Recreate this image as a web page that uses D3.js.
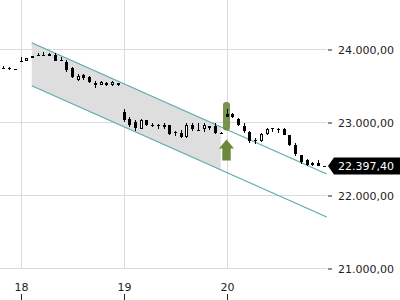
<!DOCTYPE html>
<html>
<head>
<meta charset="utf-8">
<script src="https://cdn.jsdelivr.net/npm/d3@7"></script>
<style>
body { margin: 0; background: #fff; }
svg { display: block; font-family: "DejaVu Sans", sans-serif; }
</style>
</head>
<body>
<div id="chart"></div>
<script>
// candle data, 18 bars per day, first bar of day 18 is index 3
var opens  = [23742,23745,23727, 23840,23836,23878,23915,23918,23935,23915,23850,23822,23745,23580,23640,23620,23540,23508,23540,23510,23535,
              23140,23040,23000,22905,23025,22965,22955,22930,22960,22860,22850,22795,22965,22895,22900,22915,22945,22855,
              23110,23110,23035,22945,22865,22755,22740,22840,22912,22905,22905,22820,22690,22545,22480,22410,22440,22400];
var highs  = [23770,23750,23730, 23885,23880,23905,23950,23960,23945,23950,23895,23850,23755,23660,23660,23625,23562,23555,23545,23555,23540,
              23175,23065,23027,23037,23030,22985,22970,22985,22962,22870,22890,22985,22990,22985,22985,22950,22990,22860,
              23180,23130,23050,22985,22870,22780,22855,22915,22915,22915,22915,22825,22710,22550,22490,22455,22480,22402];
var lows   = [23725,23715,23722, 23830,23832,23875,23900,23905,23900,23830,23845,23685,23600,23555,23575,23530,23466,23505,23500,23500,23500,
              23005,22938,22880,22900,22950,22930,22905,22900,22825,22810,22775,22775,22880,22875,22865,22890,22836,22836,
              23065,23050,22945,22850,22710,22700,22725,22820,22860,22855,22820,22670,22534,22425,22397,22395,22395,22396];
var closes = [23738,23728,23725, 23836,23875,23898,23903,23910,23905,23838,23848,23712,23610,23632,23600,23545,23510,23545,23505,23545,23505,
              23030,22960,22918,23025,22960,22945,22948,22960,22838,22845,22795,22965,22905,22885,22955,22940,22850,22845,
              23070,23070,22960,22880,22740,22735,22835,22905,22905,22898,22825,22685,22560,22450,22415,22445,22400,22397.4];

var firstDay = 18, firstDayIndex = 3, barsPerDay = 18;

var dayTicks = [18, 19, 20];
var priceTicks = [21000, 22000, 23000, 24000];
var lastPrice = 22397.40;

// trend channel: start/end day with upper and lower prices
var channelDays  = [18.109, 20.973];
var channelUpper = [24086, 22288];
var channelLower = [23497, 21699];
var shadeEndDay = 19.944;

// gap marker on the open of day 20
var markerDay = 20;
var markerBar = [23275, 22885];

var W = 400, H = 300;

var svg = d3.select("#chart").append("svg")
	.attr("width", W)
	.attr("height", H);

var x = d3.scaleLinear().domain([18, 20]).range([20.5, 226.5]);
var y = d3.scaleLinear().domain([21000, 24000]).range([268, 49]);

var de = d3.formatLocale({decimal: ",", thousands: ".", grouping: [3], currency: ["", ""]});
var fmt = de.format(",.2f");

// grid
svg.append("g").selectAll("line").data(priceTicks).enter().append("line")
	.attr("x1", 0).attr("x2", 327)
	.attr("y1", function(d) { return Math.round(y(d)) + 0.5; })
	.attr("y2", function(d) { return Math.round(y(d)) + 0.5; })
	.attr("stroke", "#dadada");

svg.append("g").selectAll("line").data(dayTicks).enter().append("line")
	.attr("x1", function(d) { return Math.round(x(d)) + 0.5; })
	.attr("x2", function(d) { return Math.round(x(d)) + 0.5; })
	.attr("y1", 0).attr("y2", 268)
	.attr("stroke", "#dadada");

// channel shading
function lineAt(vals, d) {
	var t = (d - channelDays[0]) / (channelDays[1] - channelDays[0]);
	return vals[0] + (vals[1] - vals[0]) * t;
}
var shade = [
	[x(channelDays[0]), y(channelUpper[0])],
	[x(shadeEndDay), y(lineAt(channelUpper, shadeEndDay))],
	[x(shadeEndDay), y(lineAt(channelLower, shadeEndDay))],
	[x(channelDays[0]), y(channelLower[0])]
];
svg.append("path")
	.attr("d", d3.line()(shade) + "Z")
	.attr("fill", "#dedede");

[channelUpper, channelLower].forEach(function(c) {
	svg.append("line")
		.attr("x1", x(channelDays[0])).attr("y1", y(c[0]))
		.attr("x2", x(channelDays[1])).attr("y2", y(c[1]))
		.attr("stroke", "#5fa9b0")
		.attr("stroke-width", 1.2);
});

// marker pill + arrow
var green = "#6d883c";
svg.append("rect")
	.attr("x", x(markerDay) - 3.5)
	.attr("y", y(markerBar[0]))
	.attr("width", 7)
	.attr("height", y(markerBar[1]) - y(markerBar[0]))
	.attr("rx", 3)
	.attr("fill", green)
	.attr("opacity", 0.9);

var ax = x(markerDay), ay = 139.5;
svg.append("path")
	.attr("d", "M" + ax + "," + ay +
		"L" + (ax + 7.5) + "," + (ay + 9) +
		"L" + (ax + 4.2) + "," + (ay + 9) +
		"L" + (ax + 4.2) + "," + (ay + 21) +
		"L" + (ax - 4.2) + "," + (ay + 21) +
		"L" + (ax - 4.2) + "," + (ay + 9) +
		"L" + (ax - 7.5) + "," + (ay + 9) + "Z")
	.attr("fill", green);

// candles
var candles = opens.map(function(o, i) {
	return {
		day: firstDay + (i - firstDayIndex) / barsPerDay,
		o: o, h: highs[i], l: lows[i], c: closes[i]
	};
});

var cg = svg.append("g").selectAll("g").data(candles).enter().append("g");

cg.append("line")
	.attr("x1", function(d) { return Math.round(x(d.day)) + 0.5; })
	.attr("x2", function(d) { return Math.round(x(d.day)) + 0.5; })
	.attr("y1", function(d) { return Math.round(y(d.h)); })
	.attr("y2", function(d) { return Math.round(y(d.l)); })
	.attr("stroke", "#000");

cg.append("rect")
	.attr("x", function(d) { return Math.round(x(d.day)) - 1 + (d.c > d.o ? 0.5 : 0); })
	.attr("y", function(d) {
		var t = Math.round(y(Math.max(d.o, d.c)));
		return d.c > d.o ? t + 0.5 : t;
	})
	.attr("width", function(d) { return d.c > d.o ? 2 : 3; })
	.attr("height", function(d) {
		var h = Math.max(1, Math.round(y(Math.min(d.o, d.c))) - Math.round(y(Math.max(d.o, d.c))));
		return d.c > d.o ? Math.max(1, h - 1) : h;
	})
	.attr("fill", function(d) { return d.c > d.o ? "#fff" : "#000"; })
	.attr("stroke", function(d) { return d.c > d.o ? "#000" : "none"; });

// y axis
var yAxis = d3.axisRight(y).tickValues(priceTicks).tickSize(4).tickPadding(6).tickFormat(fmt);
svg.append("g")
	.attr("transform", "translate(328,0.5)")
	.call(yAxis)
	.call(function(g) {
		g.select(".domain").remove();
		g.selectAll("line").attr("stroke", "#222");
		g.selectAll("text").attr("fill", "#222").attr("font-size", 11).attr("font-family", "DejaVu Sans");
	});

// x axis
var xAxis = d3.axisTop(x).tickValues(dayTicks).tickSize(6).tickPadding(3).tickFormat(d3.format("d"));
svg.append("g")
	.attr("transform", "translate(0.5,300)")
	.call(xAxis)
	.call(function(g) {
		g.select(".domain").remove();
		g.selectAll("line").attr("stroke", "#222");
		g.selectAll("text").attr("fill", "#222").attr("font-size", 11).attr("font-family", "DejaVu Sans");
	});

// last price tag
var py = y(lastPrice);
svg.append("path")
	.attr("d", "M328," + py + "L334," + (py - 8.5) + "L400," + (py - 8.5) + "L400," + (py + 8.5) + "L334," + (py + 8.5) + "Z")
	.attr("fill", "#000");
svg.append("text")
	.attr("x", 338)
	.attr("y", py)
	.attr("dy", "0.36em")
	.attr("fill", "#fff")
	.attr("font-size", 11)
	.text(fmt(lastPrice));
</script>
</body>
</html>
